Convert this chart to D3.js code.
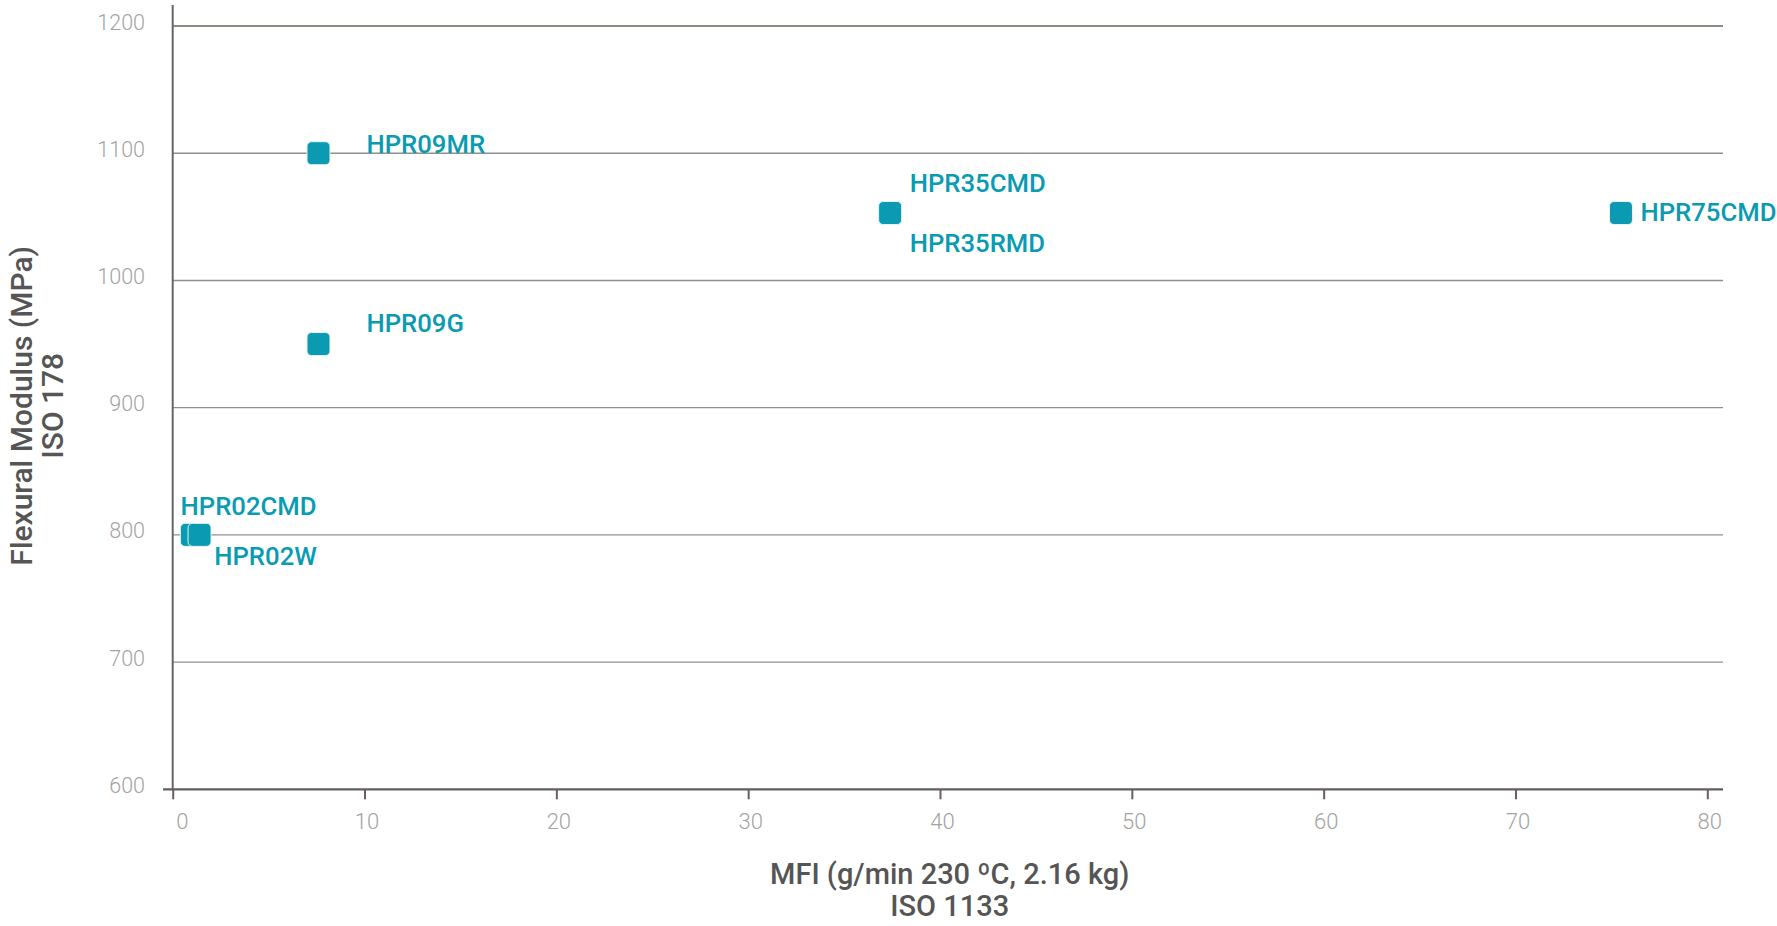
<!DOCTYPE html>
<html>
<head>
<meta charset="utf-8">
<script src="https://cdn.jsdelivr.net/npm/d3@7"></script>
<style>
  html, body { margin: 0; padding: 0; background: #fff; }
  svg { display: block; }
</style>
</head>
<body>
<svg id="chart" width="1777" height="926"></svg>
<script>
// ---- data ----
const names = ["HPR02CMD", "HPR02W", "HPR09G", "HPR09MR", "HPR35CMD", "HPR35RMD", "HPR75CMD"];
const mfi = [1.0, 1.4, 7.6, 7.6, 37.4, 37.4, 75.5];
const modulus = [800, 800, 950, 1100, 1053, 1053, 1053];
const xTicks = [0, 10, 20, 30, 40, 50, 60, 70, 80];
const yTicks = [600, 700, 800, 900, 1000, 1100, 1200];
const xTitle = ["MFI (g/min 230 ºC, 2.16 kg)", "ISO 1133"];
const yTitle = ["Flexural Modulus (MPa)", "ISO 178"];

// ---- layout ----
const plotLeft = 172.7, plotRight = 1723, plotTop = 5, plotBottom = 789.3;
const teal = "#0a9bb2";
const font = "Roboto, 'Noto Sans', sans-serif";

// label placement relative to marker centre (dx, baseline dy)
const labelPlacement = {
  HPR02CMD: [-11.3, -20],
  HPR02W: [14.7, 30],
  HPR09G: [48, -12],
  HPR09MR: [48, 0],
  HPR35CMD: [19.6, -21.5],
  HPR35RMD: [19.6, 38.5],
  HPR75CMD: [19.5, 8.2]
};

const svg = d3.select("#chart");

const x = d3.scaleLinear().domain([0, 80]).range([plotLeft, 1707.3]);
const y = d3.scaleLinear().domain([600, 1200]).range([plotBottom, 26]);

// gridlines
svg.append("g").selectAll("line")
  .data(yTicks.filter(d => d !== 600))
  .join("line")
  .attr("x1", plotLeft).attr("x2", plotRight)
  .attr("y1", d => y(d)).attr("y2", d => y(d))
  .attr("stroke", d => d === 1200 ? "#6e625a" : "#8f8f8f")
  .attr("stroke-width", 1.4);

// y tick labels
svg.append("g").selectAll("text")
  .data(yTicks)
  .join("text")
  .attr("x", 145)
  .attr("y", d => y(d) + 3.5)
  .attr("text-anchor", "end")
  .attr("font-family", font)
  .attr("font-weight", 300)
  .attr("font-size", 21.5)
  .attr("fill", "#a3a3a3")
  .text(d => d);

// y axis line
svg.append("line")
  .attr("x1", plotLeft).attr("x2", plotLeft)
  .attr("y1", plotTop).attr("y2", plotBottom)
  .attr("stroke", "#666").attr("stroke-width", 2);

// x axis via d3.axisBottom
const xAxis = d3.axisBottom(x)
  .tickValues(xTicks)
  .tickSize(10)
  .tickPadding(14)
  .tickFormat(d3.format("d"));

const gx = svg.append("g")
  .attr("transform", `translate(0,${plotBottom})`)
  .call(xAxis);
gx.select(".domain").remove();
gx.selectAll(".tick line").attr("stroke", "#6b5f58").attr("stroke-width", 2);
gx.selectAll(".tick text")
  .attr("font-family", font)
  .attr("font-weight", 300)
  .attr("font-size", 22)
  .attr("fill", "#a3a3a3")
  .attr("dx", 2);
gx.insert("line", ":first-child")
  .attr("x1", 163).attr("x2", plotRight)
  .attr("y1", 0).attr("y2", 0)
  .attr("stroke", "#5f5f5f").attr("stroke-width", 2.2);

// keep tick labels inside plot bounds (justify)
gx.selectAll(".tick").each(function(d) {
  const t = d3.select(this).select("text");
  const bb = t.node().getBBox();
  const tx = x(d);
  const left = tx + bb.x, right = tx + bb.x + bb.width;
  if (left < plotLeft + 3) t.attr("dx", plotLeft + 3 - left + 2);
  if (right > plotRight) t.attr("dx", plotRight - right + 2);
});

// axis titles
const xt = svg.append("text")
  .attr("text-anchor", "middle")
  .attr("font-family", font)
  .attr("font-weight", 500)
  .attr("font-size", 29)
  .attr("fill", "#555");
xt.append("tspan").attr("x", 949.7).attr("y", 884).text(xTitle[0]);
xt.append("tspan").attr("x", 949.7).attr("y", 915.7).text(xTitle[1]);

yTitle.forEach((t, i) => {
  svg.append("text")
    .attr("transform", `translate(${[31.7, 63.3][i]},405.8) rotate(-90)`)
    .attr("text-anchor", "middle")
    .attr("font-family", font)
    .attr("font-weight", 500)
    .attr("font-size", 30)
    .attr("fill", "#555")
    .text(t);
});

// points
const pts = names.map((n, i) => ({ name: n, x: mfi[i], y: modulus[i] }));
const ms = 23;
svg.append("g").selectAll("rect")
  .data(pts)
  .join("rect")
  .attr("x", d => x(d.x) - ms / 2)
  .attr("y", d => y(d.y) - ms / 2)
  .attr("width", ms).attr("height", ms)
  .attr("rx", 4.5).attr("ry", 4.5)
  .attr("fill", teal)
  .attr("stroke", "#e6f4f6").attr("stroke-width", 1);

// labels
svg.append("g").selectAll("text")
  .data(pts)
  .join("text")
  .attr("x", d => x(d.x) + labelPlacement[d.name][0])
  .attr("y", d => y(d.y) + labelPlacement[d.name][1])
  .attr("font-family", font)
  .attr("font-weight", 500)
  .attr("font-size", 25.7)
  .attr("fill", teal)
  .text(d => d.name);
</script>
</body>
</html>
